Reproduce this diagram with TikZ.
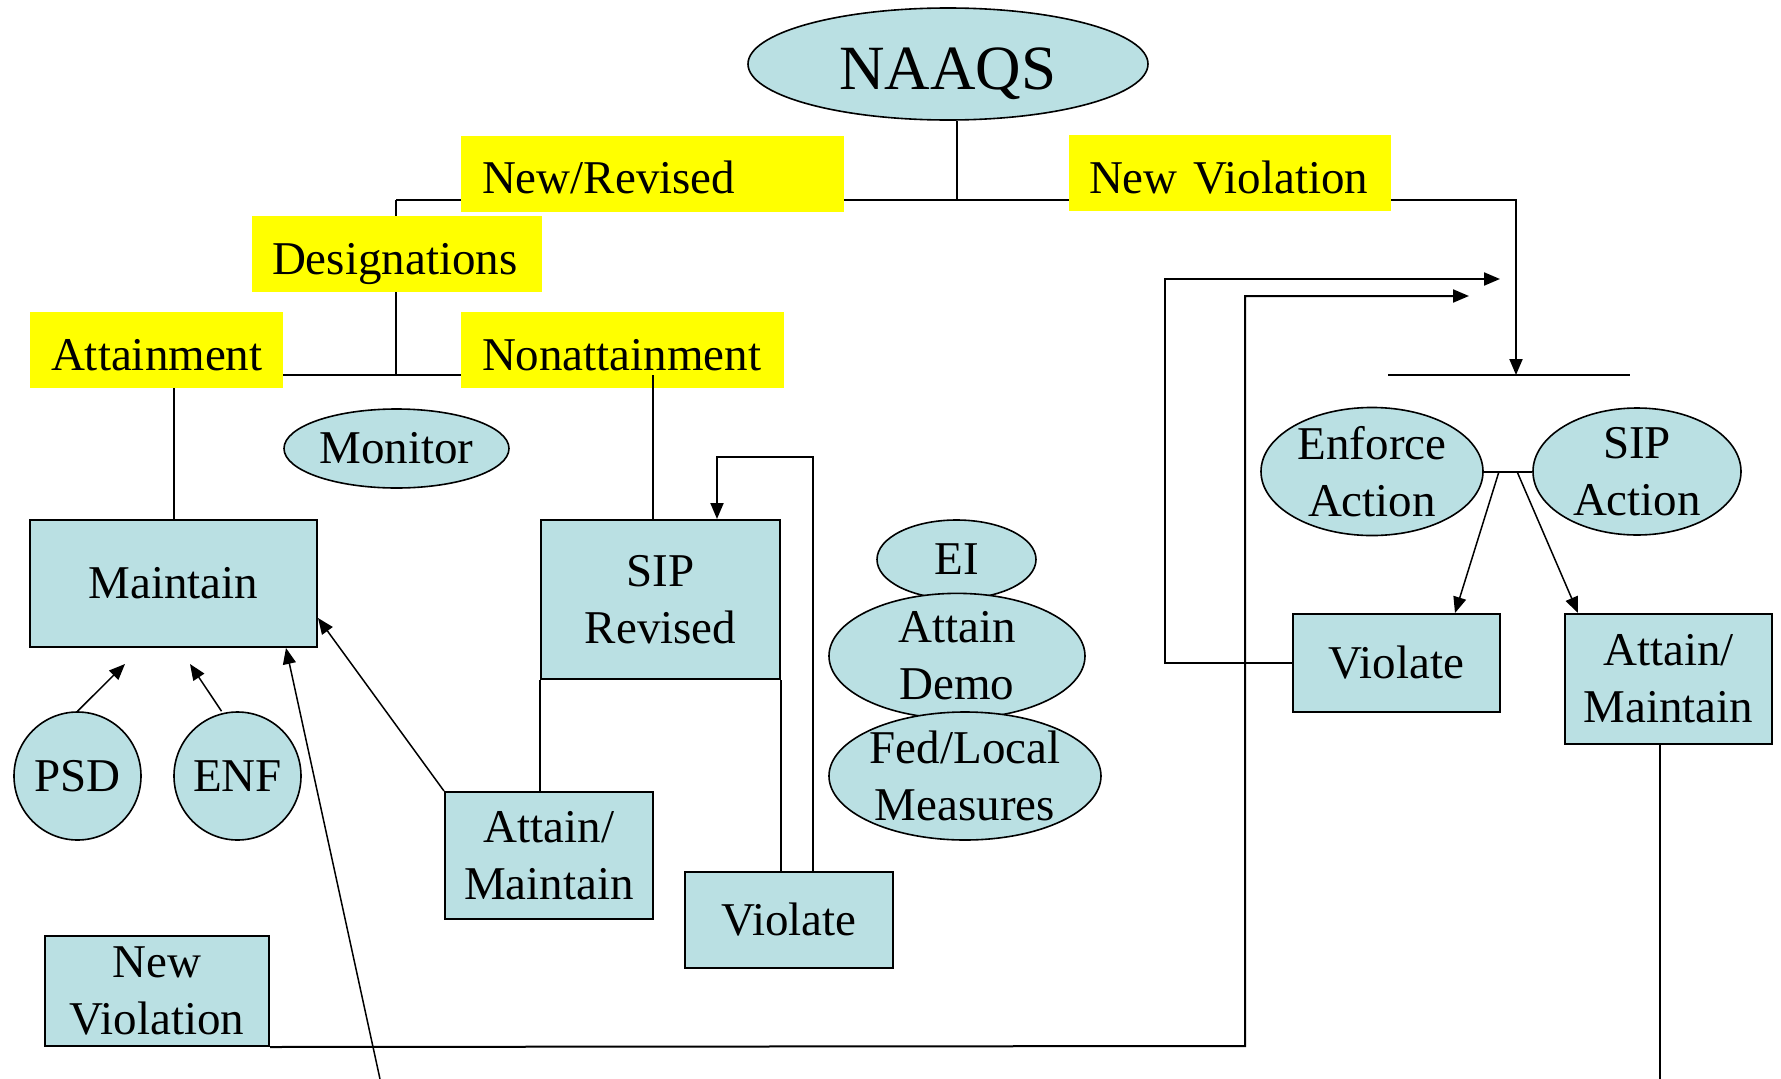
\documentclass[tikz,border=0pt]{standalone}
\usepackage{fontspec}
\setmainfont{Liberation Serif}
\usetikzlibrary{shapes.geometric,arrows.meta,calc}
\definecolor{nodefill}{RGB}{186,224,227}
\definecolor{hl}{RGB}{255,255,0}
\pgfdeclarelayer{bg}
\pgfsetlayers{bg,main}
\begin{document}
\begin{tikzpicture}[x=1pt,y=-1pt,
  every node/.style={font=\fontsize{47}{57}\selectfont},
  ybox/.style={rectangle, fill=hl, inner xsep=21pt, inner ysep=0pt, minimum height=76pt, align=left, text height=40pt, text depth=0pt},
  ell/.style={ellipse, draw, fill=nodefill, line width=1.6pt, inner sep=0pt, align=center},
  box/.style={rectangle, draw, fill=nodefill, line width=2pt, inner sep=0pt, align=center},
  conn/.style={line width=2pt},
  thin conn/.style={line width=1.5pt},
  arr/.style={-{Triangle[length=16pt,width=13pt]}}
]
\useasboundingbox (0,0) rectangle (1781,1079);

% ---------- nodes ----------
\node[ell, minimum width=400pt, minimum height=112pt, text height=50pt, text depth=0pt, font=\fontsize{63}{72}\selectfont] (naaqs) at (948,64) {NAAQS};

\node[ybox, text width=341pt] (newrev) at (652.5,173.5) {New/Revised};
\node[ybox, text width=250pt, inner xsep=20pt] (desig) at (397,254) {Designations};
\node[ybox, text width=211pt] (attain) at (156.5,350) {Attainment};
\node[ybox, text width=281pt] (nonatt) at (622.5,350) {Nonattainment};
\node[ybox, text width=282pt, inner xsep=20pt] (newviol) at (1230,173) {New Violation};

\node[ell, minimum width=225pt, minimum height=79pt] (monitor) at (396.5,448.5) {Monitor};
\node[box, minimum width=287pt, minimum height=127pt] (maintain) at (173.5,583.5) {Maintain};
\node[ell, minimum width=127pt, minimum height=128pt] (psd) at (77.5,776) {PSD};
\node[ell, minimum width=127pt, minimum height=128pt] (enf) at (237.5,776) {ENF};
\node[box, minimum width=239pt, minimum height=159pt] (sip) at (660.5,599.5) {SIP\\Revised};
\node[box, minimum width=208pt, minimum height=127pt] (am1) at (549,855.5) {Attain/\\Maintain};
\node[box, minimum width=208pt, minimum height=96pt] (violate1) at (789,920) {Violate};
\node[box, minimum width=224pt, minimum height=110pt] (nvb) at (157,991) {New\\Violation};

\node[ell, minimum width=159pt, minimum height=79pt] (ei) at (956.5,559.5) {EI};
\node[ell, minimum width=256pt, minimum height=112pt] (demo) at (957,656) {Attain\\Demo};
\node[ell, minimum width=272pt, minimum height=128pt] (fed) at (965,776) {Fed/Local\\Measures};

\node[ell, minimum width=222pt, minimum height=127pt] (enforce) at (1372,471.5) {Enforce\\Action};
\node[ell, minimum width=208pt, minimum height=127pt] (sipa) at (1637,471.5) {SIP\\Action};
\node[box, minimum width=207pt, minimum height=98pt] (violate2) at (1396.5,663) {Violate};
\node[box, minimum width=207pt, minimum height=130pt] (am2) at (1668.5,679) {Attain/\\Maintain};

% ---------- coordinates ----------
\coordinate (nq) at (957,200);
\coordinate (tl) at (396,200);
\coordinate (tr) at (1516,200);
\coordinate (dl) at (396,375);
\coordinate (barc) at (1516,375);
\coordinate (bl) at (1388,375);
\coordinate (br) at (1630,375);
\coordinate (nsip) at (653,375);
\coordinate (lp1) at (813,457);
\coordinate (lp2) at (717,457);
\coordinate (pa) at (125,664);
\coordinate (ea) at (190,664);
\coordinate (la) at (380,1079);
\coordinate (nv1) at (1245,1046);
\coordinate (nv2) at (1245,296);
\coordinate (nv3) at (1469,296);
\coordinate (v1) at (1165,663);
\coordinate (v2) at (1165,279);
\coordinate (v3) at (1500,279);
\coordinate (j1) at (1499,471.5);
\coordinate (j2) at (1517,471.5);
\coordinate (am2b) at (1660,1079);

% ---------- connectors ----------
\begin{pgfonlayer}{bg}
\draw[conn] (nq |- naaqs.south) -- (nq);
\draw[conn, arr] (tl) -- (tr) -- (barc);
\draw[conn] (tl) -- (dl);
\draw[conn] (attain.east |- dl) -- (nonatt.west |- dl);
\draw[conn] (maintain.north) -- (maintain.north |- attain.south);
\draw[conn] (bl) -- (br);
\end{pgfonlayer}

\draw[conn] (nsip) -- (nsip |- sip.north);
\draw[conn, arr] (violate1.north -| lp1) -- (lp1) -- (lp2) -- (lp2 |- sip.north);
\draw[conn] (sip.south west) -- (sip.south west |- am1.north);
\draw[conn] (sip.south east) -- (sip.south east |- violate1.north);
\draw[thin conn, arr] (am1.north west) -- ([yshift=30pt]maintain.south east);
\draw[thin conn, arr] (psd.north) -- (pa);
\draw[thin conn, arr] ([xshift=-16pt]enf.north) -- (ea);
\draw[thin conn, arr] (la) -- ([xshift=112.5pt]maintain.south);
\draw[conn, arr] (nvb.south east) -- (nv1) -- (nv2) -- (nv3);
\draw[conn, arr] (violate2.west) -- (v1) -- (v2) -- (v3);
\draw[conn] (enforce.east) -- (sipa.west);
\draw[thin conn, arr] (j1) -- ([xshift=-46pt]violate2.north east);
\draw[thin conn, arr] (j2) -- ([xshift=14pt]am2.north west);
\draw[conn] (am2.south -| am2b) -- (am2b);
\end{tikzpicture}
\end{document}
